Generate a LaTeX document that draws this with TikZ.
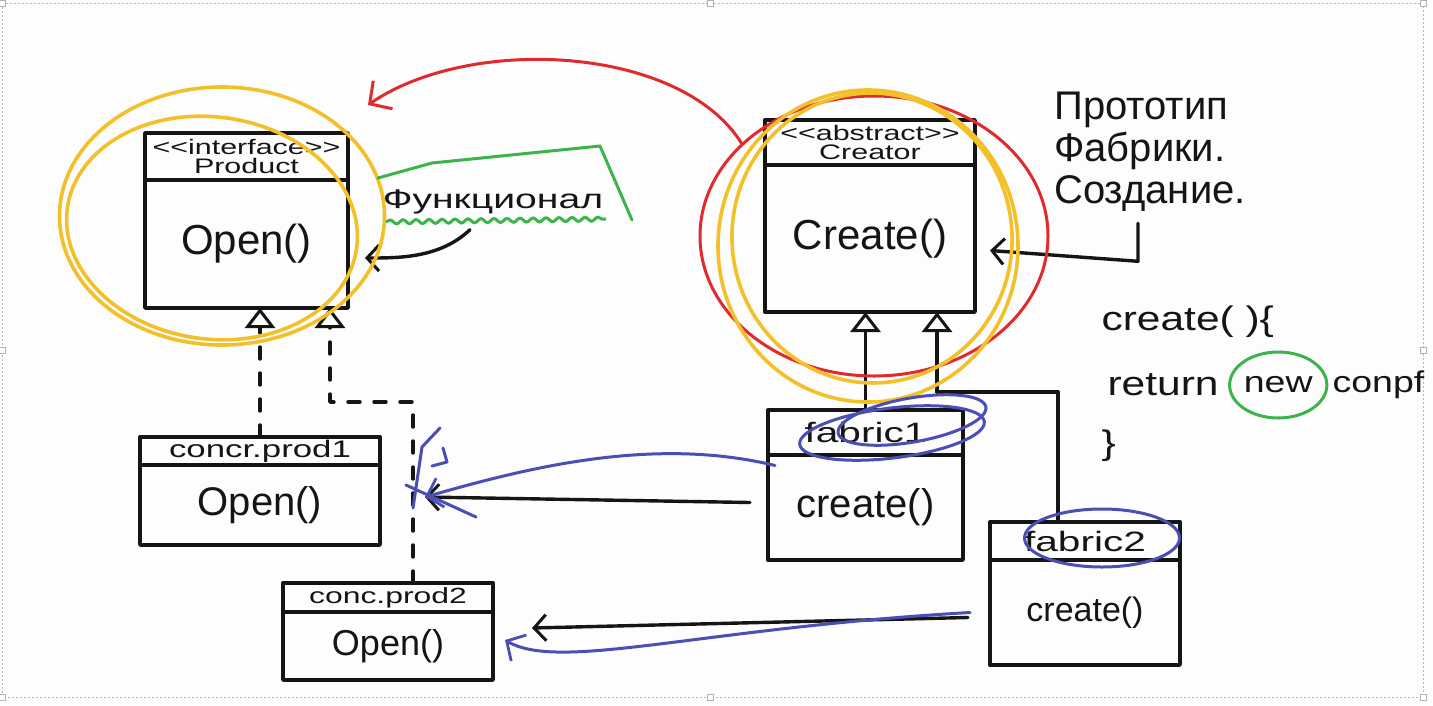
\documentclass[tikz,border=0pt]{standalone}
\usepackage{fontspec}
\setmainfont{Liberation Sans}
\newfontfamily\widefont[FakeStretch=1.45]{Liberation Sans}
\newfontfamily\handfont[FakeStretch=1.25]{Liberation Sans}
\usetikzlibrary{arrows.meta, shapes.geometric, positioning, decorations.pathmorphing}

\definecolor{penblack}{HTML}{151515}
\definecolor{penyellow}{HTML}{F3C02A}
\definecolor{penred}{HTML}{DF2A2E}
\definecolor{pengreen}{HTML}{3CB44B}
\definecolor{penblue}{HTML}{4A4EB5}
\definecolor{paper}{HTML}{FDFDFD}

\tikzset{
  pen/.style={line width=3.4pt, penblack, line cap=round, line join=round},
  head/.style={pen, draw, rectangle, inner sep=0pt, outer sep=0pt, align=center,
    font=\widefont\fontsize{21}{19}\selectfont},
  body/.style={pen, draw, rectangle, inner sep=0pt, outer sep=0pt,
    font=\fontsize{42}{42}\selectfont},
  ring/.style={draw, ellipse, inner sep=0pt, line width=3.6pt},
  realize/.style={pen, dash pattern=on 12pt off 14pt,
    -{Triangle[open, length=20pt, width=30pt, line width=3pt, fill=paper]}},
  extend/.style={pen, -{Triangle[open, length=20pt, width=30pt, line width=3pt, fill=paper]}},
  dep/.style={pen, -{Straight Barb[length=12pt, width=26pt, line width=3pt]}},
  bluepen/.style={line width=3pt, penblue, line cap=round, line join=round},
  bluearrow/.style={bluepen, -{Straight Barb[length=14pt, width=30pt, line width=2.8pt]}}
}

\begin{document}
\begin{tikzpicture}[x=1pt, y=-1pt]
	\fill[paper] (0,0) rectangle (1433,705);
	\useasboundingbox (0,0) rectangle (1433,705);
	% window frame
	\draw[gray!55, line width=0.8pt, dash pattern=on 2pt off 2pt] (2,3) rectangle (1423,697);
	\foreach \hx/\hy in {2/3, 710/3, 1423/3, 2/350, 1423/350, 2/697, 710/697, 1423/697}
		\draw[gray!60, fill=white, line width=0.6pt] (\hx-3,\hy-3) rectangle (\hx+3,\hy+3);

	% interface and abstract class
	\node [head, minimum width=203pt, minimum height=47pt] (prodH) at (246.5,156.5) {<{}<interface>{}>\\Product};
	\node [body, minimum width=203pt, minimum height=128pt, below=0pt of prodH] (prod) {Open()};
	\node [head, minimum width=210pt, minimum height=45pt] (creH) at (870,142.5) {<{}<abstract>{}>\\Creator};
	\node [body, minimum width=210pt, minimum height=147pt, below=0pt of creH] (cre) {Create()};

	% concrete products
	\node [head, minimum width=240pt, minimum height=28pt, font=\widefont\fontsize{24}{24}\selectfont] (cp1H) at (260,451) {concr.prod1};
	\node [body, minimum width=240pt, minimum height=80pt, font=\fontsize{40}{40}\selectfont, below=0pt of cp1H] (cp1) {Open()};
	\node [head, minimum width=210pt, minimum height=29pt, font=\widefont\fontsize{22}{22}\selectfont] (cp2H) at (388,597.5) {conc.prod2};
	\node [body, minimum width=210pt, minimum height=68pt, font=\fontsize{36}{36}\selectfont, below=0pt of cp2H] (cp2) {Open()};

	% fabrics
	\node [head, minimum width=195pt, minimum height=45pt, font=\widefont\fontsize{28}{28}\selectfont] (f1H) at (865.5,432.5) {fabric1};
	\node [body, minimum width=195pt, minimum height=105pt, font=\fontsize{40}{40}\selectfont, below=0pt of f1H] (f1) {create()};
	\node [head, minimum width=190pt, minimum height=38pt, font=\widefont\fontsize{28}{28}\selectfont] (f2H) at (1085,541) {fabric2};
	\node [body, minimum width=190pt, minimum height=105pt, font=\fontsize{34}{34}\selectfont, below=0pt of f2H] (f2) {create()};

	% notes
	\node [penblack, font=\widefont\fontsize{27}{27}\selectfont] (fun) at (493,202) {Функционал};
	\node [penblack, align=left, font=\fontsize{40}{42}\selectfont] (note) at (1150,152) {Прототип\\Фабрики.\\Создание.};
	\node [penblack, anchor=west, font=\handfont\fontsize{34}{34}\selectfont] (code1) at (1098,322) {create( )\{};
	\node [penblack, anchor=west, font=\handfont\fontsize{34}{34}\selectfont] (code2) at (1104,385) {return};
	\node [ring, pengreen, line width=3pt, text=penblack, minimum width=97pt, minimum height=66pt, right=6pt of code2, font=\handfont\fontsize{30}{30}\selectfont] (new) {new};
	\node [penblack, right=4pt of new, inner sep=0pt, font=\handfont\fontsize{30}{30}\selectfont] (code3) {conpf};
	\node [penblack, anchor=west, font=\handfont\fontsize{34}{34}\selectfont] (code4) at (1098,446) {\}};

	% inheritance
	\coordinate (bend2) at (330,402);
	\coordinate (bend3) at (937,392);
	\draw [realize] (cp1H.north) -- (cp1H.north |- prod.south);
	\draw [realize] ([xshift=25pt]cp2H.north) |- (bend2) -- (bend2 |- prod.south);
	\draw [extend] (f1H.north) -- (f1H.north |- cre.south);
	\draw [extend] ([xshift=-27pt]f2H.north) |- (bend3) -- (bend3 |- cre.south);

	% black arrows
	\draw [dep] ([xshift=-23pt, yshift=-12pt]fun.south) .. controls (440,258) and (400,258) .. ([xshift=17pt, yshift=-14pt]prod.east);
	\draw [dep] ([xshift=-12pt, yshift=-8pt]note.south) -- ++(0,38) -- ([xshift=15pt, yshift=-12pt]cre.east);
	\draw [dep] ([xshift=-18pt, yshift=5pt]f1.west) -- ([xshift=45pt, yshift=8pt]cp1.east);
	\draw [dep] ([xshift=-22pt, yshift=-5pt]f2.west) -- ([xshift=39pt, yshift=18pt]cp2.east);

	% colour marks
	\node [ring, penyellow, minimum width=325pt, minimum height=258pt] (prodRing) at (222,216) {};
	\node [ring, penyellow, minimum width=292pt, minimum height=222pt, rotate=-8] (prodRing2) at (212,228) {};
	\node [ring, penred, line width=3pt, minimum width=348pt, minimum height=280pt] (redRing) at (874,236) {};
	\node [ring, penyellow, minimum width=300pt, minimum height=312pt] (creRing) at (868,246) {};
	\node [ring, penyellow, minimum width=280pt, minimum height=290pt, rotate=6] (creRing2) at (872,238) {};
	\node [ring, penblue, line width=3pt, minimum width=186pt, minimum height=50pt, rotate=7] (f1Ring) at (892,433) {};
	\node [ring, penblue, line width=3pt, minimum width=150pt, minimum height=44pt, rotate=10] (f1Ring2) at (912,420) {};
	\node [ring, penblue, line width=3pt, minimum width=155pt, minimum height=58pt] (f2Ring) at (1102,538) {};
	\draw [penred, line width=3pt, line cap=round, -{Straight Barb[length=16pt, width=34pt, line width=3pt]}]
		(redRing.145) .. controls (680,45) and (470,35) .. ([xshift=20pt, yshift=28pt]prodH.north east);
	\draw [pengreen, line width=3pt, line cap=round, line join=round]
		(378,178) -- (432,163) -- (600,146) -- (632,220);
	\draw [pengreen, line width=3pt, decorate, decoration={snake, amplitude=2pt, segment length=13pt}]
		(386,222) -- (606,219);
	\draw [bluearrow] ([xshift=7pt, yshift=42pt]f1.west) .. controls (650,435) and (520,470) .. ([xshift=45pt, yshift=8pt]cp1.east);
	\draw [bluepen] (440,428) -- (422,447) -- (413,508) (443,448) -- (447,462) -- (432,466) (406,485) -- (476,517);
	\draw [bluearrow] ([xshift=-20pt]f2.west) .. controls (700,628) and (560,672) .. ([xshift=12pt, yshift=6pt]cp2.east);
\end{tikzpicture}
\end{document}
